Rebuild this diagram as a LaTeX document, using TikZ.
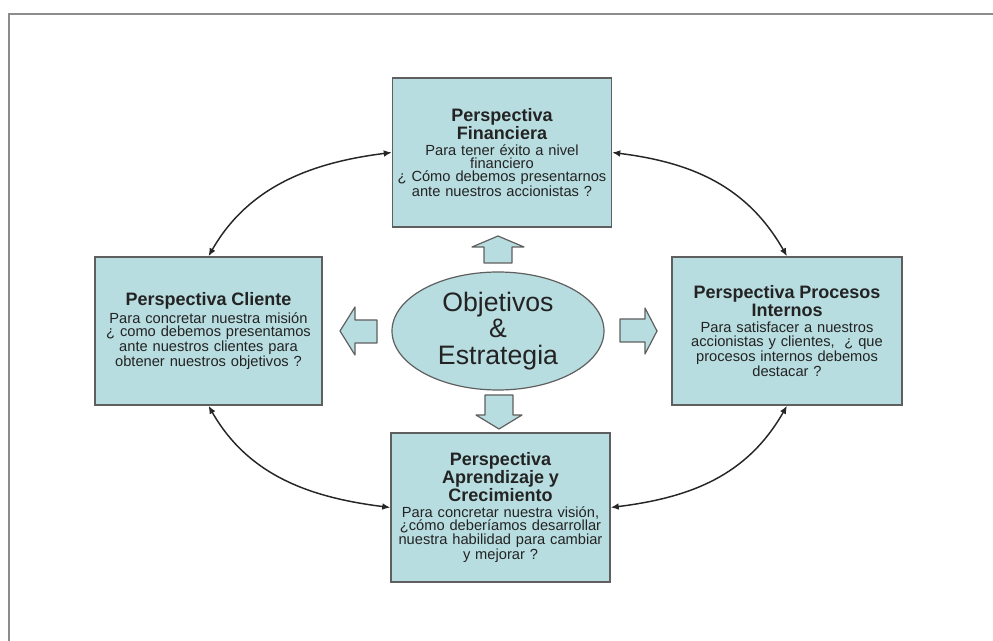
\documentclass[tikz,border=0pt]{standalone}
\usepackage{fontspec}
\setmainfont{Liberation Sans}
\usetikzlibrary{shapes.geometric,arrows.meta}
\definecolor{cajaAzul}{RGB}{184,221,224}
\definecolor{bordeGris}{RGB}{95,95,95}
\definecolor{marcoGris}{RGB}{140,140,140}
\definecolor{textoGris}{RGB}{35,35,35}
\newcommand{\titfont}{\fontsize{13.5}{13.5}\selectfont\bfseries}
\newcommand{\persp}[2]{{\titfont #1\par}\vspace{2pt}#2}
\tikzset{
  caja/.style={draw=bordeGris, line width=1.1pt, fill=cajaAzul, inner sep=0pt, align=center,
    font=\fontsize{11}{10}\selectfont, text=textoGris},
  flecha/.style={draw=bordeGris, line width=0.9pt, fill=cajaAzul, line join=round},
  curva/.style={line width=1.1pt, draw=black!85, {Latex[length=6pt,width=5pt]}-{Latex[length=6pt,width=5pt]}},
}
\begin{document}
\begin{tikzpicture}[x=0.75pt,y=0.75pt,yscale=-1,xscale=1]
    \useasboundingbox (0,0) rectangle (993,641);
    %Frame
    \draw[marcoGris, line width=2pt] (9,641) -- (9,14) -- (993,14) ;
    %Rectangle: Financiera
    \node[caja, minimum width=164.25pt, minimum height=111.75pt, text width=160pt] (fin) at (502,152.5)
      {\persp{Perspectiva\\Financiera}{Para tener éxito a nivel\\financiero\\¿ Cómo debemos presentarnos\\ante nuestros accionistas ?}};
    %Rectangle: Cliente
    \node[caja, minimum width=170.25pt, minimum height=111pt, text width=166pt] (cli) at (208.5,331)
      {\persp{Perspectiva Cliente}{Para concretar nuestra misión\\¿ como debemos presentamos\\ante nuestros clientes para\\obtener nuestros objetivos ?}};
    %Rectangle: Procesos Internos
    \node[caja, minimum width=172.5pt, minimum height=111pt, text width=168pt] (pro) at (787,331)
      {\persp{Perspectiva Procesos\\Internos}{Para satisfacer a nuestros\\accionistas y clientes,\ \ ¿ que\\procesos internos debemos\\destacar ?}};
    %Rectangle: Aprendizaje
    \node[caja, minimum width=164.25pt, minimum height=111.75pt, text width=162pt] (apr) at (500.5,507.5)
      {\persp{Perspectiva\\Aprendizaje y\\Crecimiento}{Para concretar nuestra visión,\\¿cómo deberíamos desarrollar\\nuestra habilidad para cambiar\\y mejorar ?}};
    %Ellipse
    \node[ellipse, draw=bordeGris, line width=0.9pt, fill=cajaAzul, minimum width=159pt, minimum height=88.5pt,
      inner sep=0pt, align=center, font=\fontsize{20}{20}\selectfont, text=textoGris] (obj) at (498,331)
      {Objetivos\\\&\\Estrategia};
    %Block arrows
    \draw[flecha] (484,263) -- (484,247) -- (472,247) -- (498,236) -- (524,247) -- (512,247) -- (512,263) -- cycle ;
    \draw[flecha] (485,395) -- (485,415) -- (476,415) -- (499,429) -- (522,415) -- (513,415) -- (513,395) -- cycle ;
    \draw[flecha] (377,320) -- (355,320) -- (355,307) -- (340,331) -- (355,355) -- (355,343) -- (377,343) -- cycle ;
    \draw[flecha] (620,319) -- (645,319) -- (645,308) -- (657,331) -- (645,354) -- (645,342) -- (620,342) -- cycle ;
    %Curve Lines
    \draw[curva] (fin.west) .. controls +(-80,10) and +(40,-70) .. (cli.north) ;
    \draw[curva] (fin.east) .. controls +(80,10) and +(-40,-70) .. (pro.north) ;
    \draw[curva] (cli.south) .. controls +(40,70) and +(-80,-10) .. (apr.west) ;
    \draw[curva] (pro.south) .. controls +(-40,70) and +(80,-10) .. (apr.east) ;
\end{tikzpicture}
\end{document}
